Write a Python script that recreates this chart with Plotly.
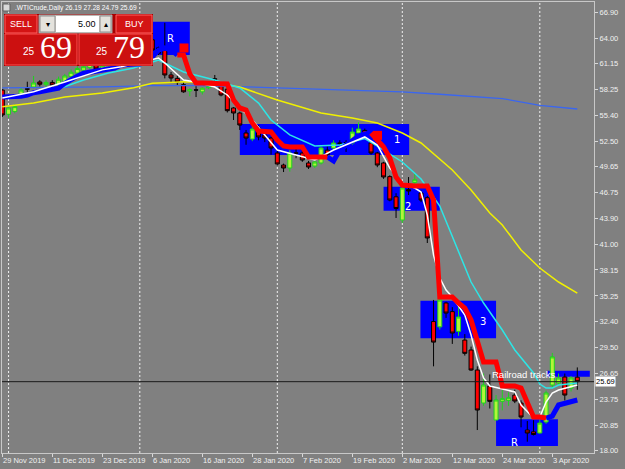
import plotly.graph_objects as go

# ---------------- data ----------------
tick_labels = ["29 Nov 2019", "11 Dec 2019", "23 Dec 2019", "6 Jan 2020", "16 Jan 2020",
               "28 Jan 2020", "7 Feb 2020", "19 Feb 2020", "2 Mar 2020", "12 Mar 2020",
               "24 Mar 2020", "3 Apr 2020"]
tick_bars = [0, 8, 16, 24, 32, 40, 48, 56, 64, 72, 80, 88]
separator_bars = [1, 22, 44, 64, 86]
price_ticks = [66.90, 64.00, 61.15, 58.25, 55.40, 52.50, 49.65, 46.75, 43.90, 41.00,
               38.15, 35.25, 32.40, 29.50, 26.65, 23.75, 20.85, 18.00]

opens = [58.20, 55.50, 55.80, 57.65, 58.35, 58.54, 59.10, 58.80, 59.05, 58.80,
         59.13, 59.70, 60.10, 60.40, 60.70, 61.10, 60.60, 60.90, 61.15, 61.50,
         61.30, 61.60, 61.50, 61.70, 63.80, 62.90, 62.66, 59.88, 59.50, 58.80,
         58.10, 58.22, 58.00, 58.45, 59.45, 58.76, 58.30, 56.20, 55.64, 53.41,
         52.74, 53.97, 53.19, 52.85, 51.18, 49.84, 49.51, 51.20, 51.18, 50.07,
         49.73, 50.07, 51.50, 51.74, 52.30, 52.35, 52.30, 53.41, 53.70, 52.30,
         51.18, 50.07, 48.55, 46.30, 43.71, 47.10, 47.90, 46.72, 46.20, 32.40,
         31.80, 34.46, 33.50, 31.30, 30.33, 29.22, 26.99, 23.31, 25.21, 21.42,
         23.50, 23.60, 24.20, 23.31, 20.30, 20.10, 19.97, 21.20, 25.32, 25.54,
         26.21, 24.98, 26.19]
highs = [58.30, 56.35, 56.60, 58.50, 59.13, 59.77, 59.30, 59.30, 59.30, 59.70,
         60.00, 60.50, 60.99, 61.25, 61.60, 61.30, 61.30, 61.50, 62.00, 61.80,
         61.90, 62.00, 62.00, 63.50, 64.57, 63.03, 65.70, 60.21, 59.80, 59.10,
         58.40, 58.76, 58.50, 58.70, 59.88, 59.10, 58.50, 56.30, 55.80, 53.75,
         54.30, 54.30, 53.60, 53.00, 51.50, 50.00, 51.50, 51.85, 51.50, 50.30,
         50.30, 51.90, 51.90, 52.60, 52.60, 52.60, 54.00, 54.60, 53.90, 52.60,
         51.30, 50.20, 48.70, 46.70, 47.50, 48.50, 48.90, 47.00, 46.40, 34.80,
         35.00, 34.60, 34.00, 34.00, 31.00, 29.60, 27.40, 26.60, 26.50, 24.20,
         24.80, 24.50, 24.80, 23.60, 21.30, 21.40, 21.40, 24.70, 28.90, 26.60,
         26.60, 26.30, 27.28]
lows = [55.20, 55.10, 55.60, 57.30, 57.84, 58.40, 58.60, 58.40, 58.60, 58.50,
        59.00, 59.50, 60.00, 60.20, 60.50, 60.40, 60.40, 60.70, 61.00, 61.10,
        61.10, 61.00, 61.30, 61.60, 62.40, 62.10, 59.50, 58.99, 58.76, 57.90,
        57.50, 57.42, 57.70, 58.30, 58.95, 57.50, 55.70, 54.86, 53.75, 52.10,
        52.50, 52.60, 52.40, 51.00, 49.80, 49.06, 49.10, 50.60, 50.20, 49.40,
        49.50, 49.90, 50.80, 51.50, 52.00, 51.30, 52.10, 53.30, 53.00, 51.00,
        49.60, 48.30, 45.80, 43.94, 43.38, 46.50, 47.70, 45.70, 41.15, 27.40,
        31.50, 32.80, 29.90, 30.80, 28.60, 26.90, 20.30, 23.00, 22.70, 21.40,
        22.50, 23.00, 23.30, 20.60, 19.00, 19.70, 19.90, 21.00, 25.00, 25.30,
        23.60, 24.60, 24.79]
closes = [55.42, 56.20, 56.35, 58.20, 58.30, 58.99, 58.85, 59.05, 58.75, 59.40,
          59.77, 60.18, 60.60, 60.80, 61.10, 60.55, 60.95, 61.20, 61.40, 61.25,
          61.55, 61.55, 61.75, 63.00, 62.66, 62.30, 59.88, 59.54, 59.10, 58.00,
          58.25, 58.20, 58.40, 58.55, 59.40, 57.65, 55.90, 55.64, 54.30, 52.85,
          53.86, 52.97, 52.85, 51.74, 49.96, 49.51, 51.18, 51.15, 50.40, 49.62,
          50.18, 51.74, 51.00, 52.30, 52.25, 52.30, 53.52, 53.86, 53.19, 51.18,
          49.84, 48.51, 45.94, 45.00, 47.28, 46.95, 48.20, 45.94, 41.71, 30.10,
          34.79, 33.34, 31.11, 32.90, 28.85, 26.99, 22.53, 25.32, 23.50, 23.65,
          23.80, 23.90, 23.53, 21.75, 19.97, 19.80, 21.08, 24.43, 28.45, 26.10,
          24.20, 26.10, 25.69]
bars = list(range(len(closes)))

# long moving average (royal blue)
ma_long_bars = [0, 16, 24, 32, 44, 55, 64, 70, 80, 86, 92]
ma_long_vals = [58.45, 58.55, 58.70, 58.70, 58.45, 58.20, 58.00, 57.73, 57.25, 56.50, 56.09]
# yellow moving average
ma_yellow_bars = [0, 5, 10, 16, 21, 24, 26, 29, 34, 38, 44, 51, 56, 60, 64, 67, 72, 75, 78, 80, 83, 86, 89, 92]
ma_yellow_vals = [56.35, 56.76, 57.42, 57.87, 58.46, 58.95, 59.02, 59.13, 58.99, 58.54, 57.09, 55.64,
                  55.08, 54.53, 53.41, 52.30, 49.29, 47.06, 44.49, 43.16, 40.37, 38.36, 36.80, 35.57]
# cyan moving average
ma_cyan_bars = [0, 8, 13, 17, 21, 25, 29, 34, 38, 40, 41, 43, 46, 50, 54, 58, 60, 64, 67, 70,
                72, 75, 77, 80, 82, 85, 86, 87, 88, 89, 92]
ma_cyan_vals = [57.42, 58.09, 59.32, 60.10, 60.66, 61.55, 60.21, 59.32, 58.43, 57.31, 56.75, 54.86,
                53.20, 51.96, 52.07, 52.80, 51.96, 50.18, 48.28, 45.27, 41.82, 36.80, 34.46, 31.45,
                29.22, 26.66, 25.43, 24.98, 24.98, 25.32, 25.54]
# white (fast) moving average
ma_white_bars = [0, 5, 10, 16, 19, 22, 25, 26, 29, 31, 34, 36, 40, 44, 48, 50, 53, 56, 58, 60,
                 62, 64, 66, 67, 68, 69, 70, 71, 72, 74, 75, 76, 77, 78, 80, 82, 83, 85, 86,
                 87, 88, 89, 92]
ma_white_vals = [57.31, 58.00, 59.10, 60.45, 60.80, 61.30, 61.77, 61.22, 59.32, 59.10, 58.54, 57.65,
                 54.86, 51.52, 50.74, 50.40, 51.52, 52.41, 52.97, 52.07, 49.51, 47.84, 47.28, 46.83,
                 44.27, 39.81, 37.25, 35.91, 35.13, 33.12, 30.89, 28.10, 26.10, 25.21, 24.87, 24.54,
                 23.09, 21.64, 21.75, 23.42, 24.43, 24.76, 25.32]
# trend line, rising segments (blue) and falling segments (red)
trend_up1_bars = list(range(0, 29))
trend_up1_vals = [57.42, 57.42, 57.42, 57.50, 57.65, 57.90, 58.00, 58.10, 58.20, 58.40,
                  58.95, 59.40, 59.75, 60.08, 60.20, 60.32, 60.32, 60.45, 60.66, 60.99,
                  61.10, 61.10, 61.10, 61.25, 61.88, 62.66, 62.89, 62.66, 62.11]
trend_dn1_bars = list(range(28, 53))
trend_dn1_vals = [62.11, 62.11, 59.99, 58.99, 58.99, 58.99, 58.99, 58.99, 58.88, 57.09,
                  56.20, 55.97, 54.53, 53.63, 53.52, 53.52, 52.63, 51.96, 51.85, 51.85,
                  51.85, 50.74, 50.74, 50.74, 50.74]
trend_up2_bars = list(range(52, 60))
trend_up2_vals = [50.74, 50.29, 51.52, 52.07, 52.63, 53.08, 53.30, 53.41]
trend_dn2_bars = list(range(59, 88))
trend_dn2_vals = [53.41, 52.63, 51.85, 50.62, 48.51, 47.61, 47.50, 47.50, 47.50, 47.50,
                  45.94, 35.13, 35.13, 35.13, 34.46, 33.90, 32.56, 30.30, 27.88, 27.88,
                  27.88, 25.21, 25.21, 25.21, 24.98, 23.31, 21.75, 21.75, 21.64]
trend_up3_bars = list(range(87, 93))
trend_up3_vals = [21.64, 21.86, 23.09, 23.31, 23.42, 23.65]
signal_bars = [29.07, 60.03]
signal_vals = [62.89, 53.15]

bid_price = 25.69
header_text = ".WTICrude,Daily 26.19 27.28 24.79 25.69"

# chart objects: (left bar, right bar, top price, bottom price)
boxes = [(23.9, 30.0, 65.82, 62.11), (38.0, 65.1, 54.42, 50.96), (61.0, 70.0, 47.43, 44.75),
         (66.9, 79.0, 34.71, 30.52), (79.0, 88.9, 21.50, 18.52), (87.2, 94.0, 26.92, 26.24)]
box_labels = [("R", 26.9, 63.93), ("1", 63.1, 52.74), ("2", 64.9, 45.2), ("3", 76.9, 32.38),
              ("R", 82.0, 18.95)]

# ---------------- figure ----------------
W, H = 625, 469
ML, MR, MT, MB = 2, 31, 2, 16
PW, PH = W - ML - MR, H - MT - MB


def px(x):
    return (x - ML) / PW


def py(y):
    return (H - MB - y) / PH


fig = go.Figure()

fig.add_trace(go.Candlestick(
    x=bars, open=opens, high=highs, low=lows, close=closes,
    increasing=dict(line=dict(color='#1fd21f', width=1), fillcolor='#b2f53a'),
    decreasing=dict(line=dict(color='#000000', width=1), fillcolor='#ff0000'),
    whiskerwidth=0, hoverinfo='skip', showlegend=False))


def add_line(xs, ys, color, width):
    fig.add_trace(go.Scatter(x=xs, y=ys, mode='lines', line=dict(color=color, width=width),
                             hoverinfo='skip', showlegend=False))


add_line(ma_long_bars, ma_long_vals, '#3a66f0', 1.3)
add_line(ma_yellow_bars, ma_yellow_vals, '#f0f000', 1.5)
add_line(ma_cyan_bars, ma_cyan_vals, '#2ce6e6', 1.5)
add_line(trend_up1_bars, trend_up1_vals, '#0000ff', 5)
add_line(trend_up2_bars, trend_up2_vals, '#0000ff', 5)
add_line(trend_up3_bars, trend_up3_vals, '#0000ff', 5)
add_line(ma_white_bars, ma_white_vals, '#ffffff', 1.5)
add_line(trend_dn1_bars, trend_dn1_vals, '#ff0000', 5)
add_line(trend_dn2_bars, trend_dn2_vals, '#ff0000', 5)
fig.add_trace(go.Scatter(x=signal_bars, y=signal_vals, mode='markers',
                         marker=dict(symbol='square', size=9, color='#ff0000', line=dict(width=0)),
                         hoverinfo='skip', showlegend=False))

shapes = []
for (x0, x1, y0, y1) in boxes:
    shapes.append(dict(type='rect', xref='x', yref='y', x0=x0, x1=x1, y0=y0, y1=y1,
                       fillcolor='#0000ff', line=dict(width=0), layer='below'))
for b in separator_bars:
    shapes.append(dict(type='line', xref='x', yref='paper', x0=b, x1=b, y0=0, y1=1,
                       line=dict(color='#f0f0f0', width=1, dash='2px,2px'), layer='below'))
shapes.append(dict(type='line', xref='paper', yref='y', x0=0, x1=1, y0=bid_price, y1=bid_price,
                   line=dict(color='#1a1a1a', width=1), layer='above'))


# one-click trading panel (pixel placed)
def prect(x0, y0, x1, y1, fill, line='rgba(0,0,0,0)', lw=0):
    shapes.append(dict(type='rect', xref='paper', yref='paper', x0=px(x0), x1=px(x1),
                       y0=py(y1), y1=py(y0), fillcolor=fill, line=dict(color=line, width=lw),
                       layer='above'))


prect(4, 14, 153, 66, '#a80000')
prect(5, 15, 37, 33, '#d41414', '#ff6060', 1)
prect(39, 15, 112, 33, '#d4d0c8', '#a0a0a0', 1)
prect(40, 16, 55, 32, '#e4e2dc', '#909090', 1)
prect(56, 16, 99, 32, '#ffffff')
prect(100, 16, 111, 32, '#e4e2dc', '#909090', 1)
prect(116, 15, 152, 33, '#d41414', '#ff6060', 1)
prect(5, 34, 77, 65, '#cc1010', '#ff5050', 1)
prect(79, 34, 152, 65, '#cc1010', '#ff5050', 1)
prect(3, 4, 10, 11, '#d8d8d8', '#606060', 1)

annotations = []


def ptext(x, y, text, size, color='#ffffff', xanchor='left', family='Liberation Sans', bg=None):
    d = dict(xref='paper', yref='paper', x=px(x), y=py(y), text=text, showarrow=False,
             xanchor=xanchor, yanchor='middle', font=dict(family=family, size=size, color=color))
    if bg:
        d['bgcolor'] = bg
    annotations.append(d)


ptext(13, 8, header_text, 6.6, '#ffffff')
ptext(21, 24, "SELL", 9, '#ffffff', 'center')
ptext(134, 24, "BUY", 9, '#ffffff', 'center')
ptext(98, 24, "5.00", 9, '#000000', 'right')
ptext(47.5, 24, "\u25BE", 8, '#000000', 'center')
ptext(105.5, 24, "\u25B4", 8, '#000000', 'center')
ptext(37, 52, "25", 10, '#ffffff', 'right')
ptext(38, 47, "69", 32, '#ffffff', 'left', 'Liberation Sans Narrow')
ptext(110, 52, "25", 10, '#ffffff', 'right')
ptext(111, 47, "79", 32, '#ffffff', 'left', 'Liberation Sans Narrow')

for t, b, v in box_labels:
    annotations.append(dict(xref='x', yref='y', x=b, y=v, text=t, showarrow=False,
                            xanchor='center', yanchor='middle',
                            font=dict(family='DejaVu Sans', size=10, color='#ffffff')))
annotations.append(dict(xref='x', yref='y', x=78.0, y=26.50, text="Railroad tracks", showarrow=False,
                        xanchor='left', yanchor='middle',
                        font=dict(family='Liberation Sans', size=9.5, color='#ffffff')))
annotations.append(dict(xref='paper', yref='y', x=1.0, y=bid_price, text=f"{bid_price:.2f}",
                        showarrow=False, xanchor='left', yanchor='middle', xshift=1,
                        bgcolor='#ffffff', borderpad=0,
                        font=dict(family='Liberation Sans', size=7.5, color='#000000')))
for lab, b in zip(tick_labels, tick_bars):
    annotations.append(dict(xref='x', yref='paper', x=b, y=py(460.5), text=lab, showarrow=False,
                            xanchor='left', yanchor='middle', xshift=-1,
                            font=dict(family='Liberation Sans', size=7.5, color='#f0f0f0')))

fig.update_layout(
    width=W, height=H, margin=dict(l=ML, r=MR, t=MT, b=MB, pad=0),
    paper_bgcolor='#808080', plot_bgcolor='#808080', showlegend=False,
    boxgap=0.2, boxgroupgap=0.2,
    shapes=shapes, annotations=annotations,
    xaxis=dict(range=[-0.05, 94.67], showgrid=False, zeroline=False, tickvals=tick_bars,
               ticks='outside', ticklen=3, tickcolor='#d8d8d8', showticklabels=False,
               showline=True, linecolor='#c8c8c8', linewidth=1, mirror=True,
               rangeslider=dict(visible=False), fixedrange=True),
    yaxis=dict(range=[17.74, 68.015], side='right', showgrid=False, zeroline=False,
               tickvals=price_ticks, ticktext=[f"{v:.2f}" for v in price_ticks],
               ticks='outside', ticklen=3, tickcolor='#d8d8d8',
               tickfont=dict(family='Liberation Sans', size=7.5, color='#f0f0f0'),
               showline=True, linecolor='#c8c8c8', linewidth=1, mirror=True, fixedrange=True),
)

fig.write_html("out.html", config={'displayModeBar': False})
